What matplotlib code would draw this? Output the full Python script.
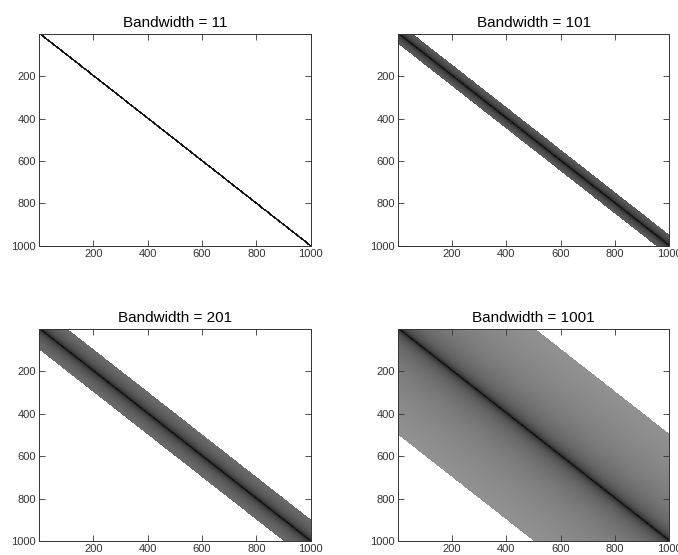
import numpy as np
import matplotlib
matplotlib.use("Agg")
from matplotlib import pyplot as plt

# matrix size and band widths of the four panels
n = 1000
bandwidths = [11, 101, 201, 1001]
titles = ["Bandwidth = %d" % b for b in bandwidths]
ticks = [200, 400, 600, 800, 1000]

# grey level reached at the band edge of the widest band
edge_grey = 0.57

plt.rcParams['font.family'] = ['Liberation Sans', 'DejaVu Sans']

fig = plt.figure(figsize=(6.78, 5.55), dpi=100)
positions = [(0.0575, 0.557, 0.401, 0.382),
             (0.587, 0.557, 0.400, 0.382),
             (0.0575, 0.025, 0.401, 0.382),
             (0.587, 0.025, 0.400, 0.382)]

i, j = np.indices((n, n))
d = np.abs(i - j)

cmap = plt.get_cmap('gray').copy()
cmap.set_bad('white')

for bw, title, pos in zip(bandwidths, titles, positions):
    half = (bw - 1) // 2
    # banded matrix, entries decay with distance from the diagonal
    A = np.where(d <= half, 1.0 / (1.0 + d), np.nan)
    shade = np.ma.masked_invalid(-np.log(A))
    ax = fig.add_axes(pos)
    ax.imshow(shade, cmap=cmap, vmin=0, vmax=np.log(501) / edge_grey,
              extent=(0.5, n + 0.5, n + 0.5, 0.5), aspect='auto',
              interpolation='nearest')
    ax.set_xlim(0.5, n + 0.5)
    ax.set_ylim(n + 0.5, 0.5)
    ax.set_xticks(ticks)
    ax.set_yticks(ticks)
    ax.tick_params(direction='in', length=4, width=0.6, top=True, right=True,
                   labelsize=8, colors='#333333', pad=2)
    for s in ax.spines.values():
        s.set_linewidth(0.7)
        s.set_color('#333333')
    ax.set_title(title, fontsize=11, pad=5)

fig.savefig("out.png", dpi=100)
